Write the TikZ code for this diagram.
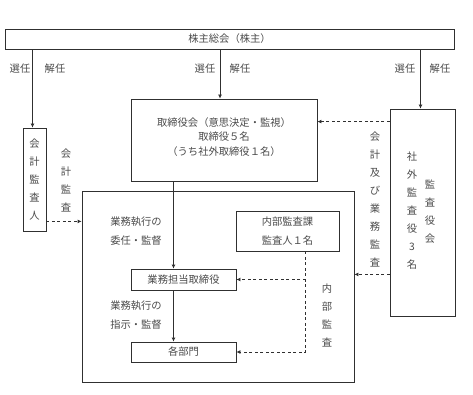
\documentclass[tikz,border=0pt]{standalone}
\usepackage{fontspec}
\newfontfamily\jp{Noto Sans CJK JP}
\usetikzlibrary{arrows.meta,positioning}
\definecolor{txtgray}{HTML}{4A4A4A}
\definecolor{linegray}{HTML}{303030}
\tikzset{
  box/.style={draw=linegray, line width=0.8pt, inner sep=0pt, text=txtgray},
  lbl/.style={text=txtgray, inner sep=0pt, align=center},
  vlbl/.style={lbl, font=\jp\fontsize{10.3}{18}\selectfont},
  arr/.style={draw=linegray, line width=0.8pt, -{Latex[length=4pt,width=4pt]}},
  dasharr/.style={arr, dash pattern=on 3pt off 2.5pt},
}
\begin{document}
\begin{tikzpicture}[x=1pt, y=-1pt, font=\jp\fontsize{10.3}{19}\selectfont]
\useasboundingbox (0,0) rectangle (473,395);
% boxes
\node[box, minimum width=449pt, minimum height=20pt] (agm) at (229.5,39) {株主総会（株主）};
\node[box, minimum width=23pt, minimum height=103pt, font=\jp\fontsize{10.3}{18}\selectfont, align=center] (acc) at (34.5,179.5) {会\\計\\監\\査\\人};
\node[box, minimum width=186pt, minimum height=82pt] (board) at (224,140) {};
\node[lbl, font=\jp\fontsize{10.3}{14.5}\selectfont] (boardtxt) at (224,137) {取締役会（意思決定・監視）\\取締役５名\\（うち社外取締役１名）};
\node[box, minimum width=65pt, minimum height=207pt] (aud) at (422.5,212.5) {};
\node[box, minimum width=272pt, minimum height=191pt] (big) at (218,286.5) {};
\node[box, minimum width=103pt, minimum height=40pt, align=center] (ia) at (287.5,231) {内部監査課\\監査人１名};
\node[box, minimum width=105pt, minimum height=21pt] (exec) at (183.5,279.5) {業務担当取締役};
\node[box, minimum width=105pt, minimum height=20pt] (dept) at (183.5,352) {各部門};
% labels
\node[lbl] at (20,69) {選任};
\node[lbl] at (55,69) {解任};
\node[lbl] at (205,69) {選任};
\node[lbl] at (240,69) {解任};
\node[lbl] at (405,69) {選任};
\node[lbl] at (440,69) {解任};
\node[vlbl] at (66,180.5) {会\\計\\監\\査};
\node[vlbl] at (375,199) {会\\計\\及\\び\\業\\務\\監\\査};
\node[vlbl] at (412,210.5) {社\\外\\監\\査\\役\\3\\名};
\node[vlbl] at (430,211.5) {監\\査\\役\\会};
\node[vlbl] at (327,315.5) {内\\部\\監\\査};
\node[lbl, align=left] at (136,231.5) {業務執行の\\委任・監督};
\node[lbl, align=left] at (136,315.5) {業務執行の\\指示・監督};
% connectors
\draw[arr] ([xshift=-2pt]acc.north |- agm.south) -- ([xshift=-2pt]acc.north);
\draw[arr] ([xshift=-4pt]board.north |- agm.south) -- ([xshift=-4pt]board.north);
\draw[arr] ([xshift=-2pt]aud.north |- agm.south) -- ([xshift=-2pt]aud.north);
\draw[arr] ([xshift=-10pt]exec.north |- board.south) -- ([xshift=-10pt]exec.north);
\draw[arr] ([xshift=-10pt]dept.north |- exec.south) -- ([xshift=-10pt]dept.north);
\draw[dasharr] ([yshift=10pt]acc.south east) -- ([yshift=10pt]acc.south east -| big.west);
\draw[dasharr] ([yshift=-13pt]aud.north west) -- ([yshift=-13pt]aud.north west -| board.east);
\draw[dasharr] ([yshift=42pt]aud.south west) -- ([yshift=42pt]aud.south west -| big.east);
\coordinate (iafoot) at ([xshift=18pt]ia.south);
\draw[dasharr] (iafoot) -- (iafoot |- dept.east) -- (dept.east);
\draw[dasharr] (iafoot |- exec.east) -- (exec.east);
\end{tikzpicture}
\end{document}
